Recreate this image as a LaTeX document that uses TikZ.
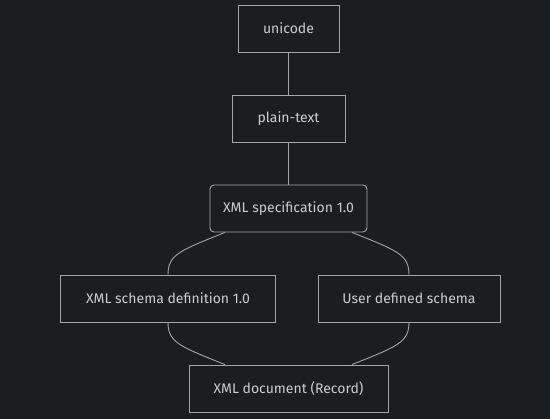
\documentclass[tikz,border=0pt]{standalone}
\usepackage{fontspec}
\setmainfont{Fira Sans}
\usepackage{tikz}
\usetikzlibrary{shapes, positioning}
\definecolor{bgdark}{RGB}{28,29,31}
\definecolor{edgegrey}{RGB}{165,165,165}
\definecolor{textgrey}{RGB}{205,205,205}
\tikzstyle{block} = [draw=edgegrey, line width=0.9pt, fill=bgdark, rectangle, text=textgrey, minimum height=47pt, font=\fontsize{14}{16}\selectfont]
\tikzstyle{link} = [draw=edgegrey, line width=0.9pt]

\begin{document}
\begin{tikzpicture}[x=1pt,y=-1pt,node distance=90pt]
    \fill[bgdark] (0,0) rectangle (550,419);
    \useasboundingbox (0,0) rectangle (550,419);
    \node[block, minimum width=101pt] at (288.5,28.5) (unicode) {unicode};
    \node[block, minimum width=113pt, below of=unicode] (plain) {plain-text};
    \node[block, minimum width=157pt, rounded corners=4pt, below of=plain] (spec) {XML specification 1.0};
    \node[below of=spec] (midway) {};
    \node[block, minimum width=215pt, left of=midway, node distance=120.5pt] (schema) {XML schema definition 1.0};
    \node[block, minimum width=182pt, right of=midway, node distance=120.5pt] (user) {User defined schema};
    \node[block, minimum width=199pt, below of=midway] (doc) {XML document (Record)};
    \draw[link] (unicode) -- (plain);
    \draw[link] (plain) -- (spec);
    \draw[link] ([xshift=-63.5pt]spec.south) .. controls +(-45,18) and +(0,-20) .. (schema.north);
    \draw[link] ([xshift=63.5pt]spec.south) .. controls +(45,18) and +(0,-20) .. (user.north);
    \draw[link] (schema.south) .. controls +(0,20) and +(-45,-18) .. ([xshift=-63.5pt]doc.north);
    \draw[link] (user.south) .. controls +(0,20) and +(45,-18) .. ([xshift=63.5pt]doc.north);
\end{tikzpicture}
\end{document}
